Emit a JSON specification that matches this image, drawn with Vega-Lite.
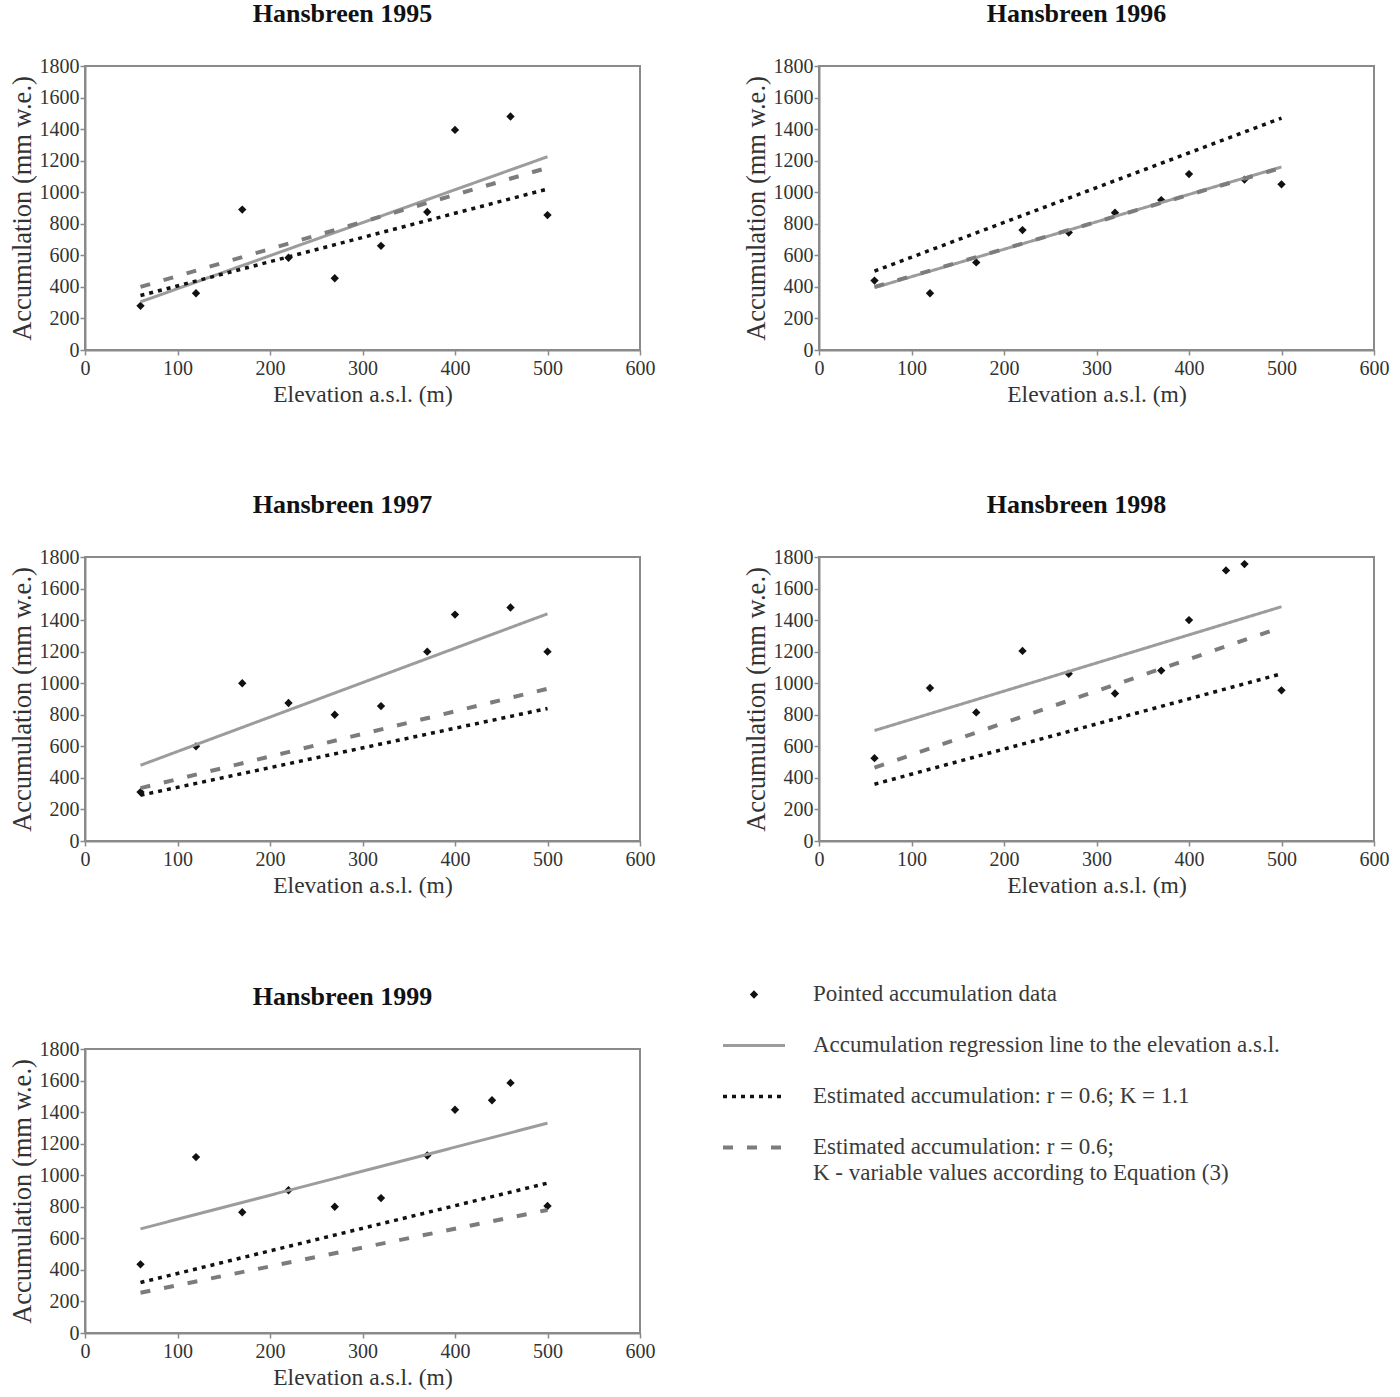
{
  "$schema": "https://vega.github.io/schema/vega-lite/v6.json",
  "background": "white",
  "padding": {"left": 7, "top": 0, "right": 5, "bottom": 5},
  "config": {
    "view": {"stroke": "#8a8a8a", "strokeWidth": 2},
    "axis": {
      "grid": false,
      "domainColor": "#8a8a8a", "domainWidth": 2,
      "tickColor": "#8a8a8a", "tickSize": 5, "tickWidth": 1.5,
      "labelFont": "Liberation Serif", "labelFontSize": 20, "labelColor": "#333333", "labelPadding": 1,
      "labelOverlap": false, "labelFlush": false, "format": "d",
      "titleFont": "Liberation Serif", "titleFontSize": 23.5, "titleFontWeight": "normal", "titleColor": "#333333"
    },
    "axisX": {"titlePadding": 4, "labelPadding": 3},
    "axisY": {"titlePadding": 3, "titleFontSize": 26.5},
    "title": {"font": "Liberation Serif", "fontSize": 26, "fontWeight": "bold", "color": "#111111", "offset": 29, "anchor": "middle", "dx": -20}
  },
  "datasets": {
    "pts": [
      {"year": 1995, "elev": 60, "acc": 280}, {"year": 1995, "elev": 120, "acc": 360}, {"year": 1995, "elev": 170, "acc": 890},
      {"year": 1995, "elev": 220, "acc": 585}, {"year": 1995, "elev": 270, "acc": 455}, {"year": 1995, "elev": 320, "acc": 660},
      {"year": 1995, "elev": 370, "acc": 875}, {"year": 1995, "elev": 400, "acc": 1395}, {"year": 1995, "elev": 460, "acc": 1480},
      {"year": 1995, "elev": 500, "acc": 855},
      {"year": 1996, "elev": 60, "acc": 440}, {"year": 1996, "elev": 120, "acc": 360}, {"year": 1996, "elev": 170, "acc": 555},
      {"year": 1996, "elev": 220, "acc": 760}, {"year": 1996, "elev": 270, "acc": 745}, {"year": 1996, "elev": 320, "acc": 870},
      {"year": 1996, "elev": 370, "acc": 950}, {"year": 1996, "elev": 400, "acc": 1115}, {"year": 1996, "elev": 460, "acc": 1080},
      {"year": 1996, "elev": 500, "acc": 1050},
      {"year": 1997, "elev": 60, "acc": 310}, {"year": 1997, "elev": 120, "acc": 600}, {"year": 1997, "elev": 170, "acc": 1000},
      {"year": 1997, "elev": 220, "acc": 875}, {"year": 1997, "elev": 270, "acc": 800}, {"year": 1997, "elev": 320, "acc": 855},
      {"year": 1997, "elev": 370, "acc": 1200}, {"year": 1997, "elev": 400, "acc": 1435}, {"year": 1997, "elev": 460, "acc": 1480},
      {"year": 1997, "elev": 500, "acc": 1200},
      {"year": 1998, "elev": 60, "acc": 525}, {"year": 1998, "elev": 120, "acc": 970}, {"year": 1998, "elev": 170, "acc": 815},
      {"year": 1998, "elev": 220, "acc": 1205}, {"year": 1998, "elev": 270, "acc": 1060}, {"year": 1998, "elev": 320, "acc": 935},
      {"year": 1998, "elev": 370, "acc": 1080}, {"year": 1998, "elev": 400, "acc": 1400}, {"year": 1998, "elev": 440, "acc": 1715},
      {"year": 1998, "elev": 460, "acc": 1755}, {"year": 1998, "elev": 500, "acc": 955},
      {"year": 1999, "elev": 60, "acc": 435}, {"year": 1999, "elev": 120, "acc": 1115}, {"year": 1999, "elev": 170, "acc": 765},
      {"year": 1999, "elev": 220, "acc": 905}, {"year": 1999, "elev": 270, "acc": 800}, {"year": 1999, "elev": 320, "acc": 855},
      {"year": 1999, "elev": 370, "acc": 1125}, {"year": 1999, "elev": 400, "acc": 1415}, {"year": 1999, "elev": 440, "acc": 1475},
      {"year": 1999, "elev": 460, "acc": 1585}, {"year": 1999, "elev": 500, "acc": 805}
    ],
    "lines": [
      {"year": 1995, "series": "Regression", "elev": 60, "acc": 305}, {"year": 1995, "series": "Regression", "elev": 500, "acc": 1225},
      {"year": 1995, "series": "K = 1.1", "elev": 60, "acc": 345}, {"year": 1995, "series": "K = 1.1", "elev": 500, "acc": 1020},
      {"year": 1995, "series": "K variable", "elev": 60, "acc": 400}, {"year": 1995, "series": "K variable", "elev": 500, "acc": 1155},
      {"year": 1996, "series": "Regression", "elev": 60, "acc": 395}, {"year": 1996, "series": "Regression", "elev": 500, "acc": 1160},
      {"year": 1996, "series": "K = 1.1", "elev": 60, "acc": 500}, {"year": 1996, "series": "K = 1.1", "elev": 500, "acc": 1470},
      {"year": 1996, "series": "K variable", "elev": 60, "acc": 400}, {"year": 1996, "series": "K variable", "elev": 500, "acc": 1155},
      {"year": 1997, "series": "Regression", "elev": 60, "acc": 480}, {"year": 1997, "series": "Regression", "elev": 500, "acc": 1440},
      {"year": 1997, "series": "K = 1.1", "elev": 60, "acc": 290}, {"year": 1997, "series": "K = 1.1", "elev": 500, "acc": 840},
      {"year": 1997, "series": "K variable", "elev": 60, "acc": 335}, {"year": 1997, "series": "K variable", "elev": 500, "acc": 965},
      {"year": 1998, "series": "Regression", "elev": 60, "acc": 700}, {"year": 1998, "series": "Regression", "elev": 500, "acc": 1485},
      {"year": 1998, "series": "K = 1.1", "elev": 60, "acc": 360}, {"year": 1998, "series": "K = 1.1", "elev": 500, "acc": 1060},
      {"year": 1998, "series": "K variable", "elev": 60, "acc": 465}, {"year": 1998, "series": "K variable", "elev": 500, "acc": 1355},
      {"year": 1999, "series": "Regression", "elev": 60, "acc": 660}, {"year": 1999, "series": "Regression", "elev": 500, "acc": 1330},
      {"year": 1999, "series": "K = 1.1", "elev": 60, "acc": 320}, {"year": 1999, "series": "K = 1.1", "elev": 500, "acc": 950},
      {"year": 1999, "series": "K variable", "elev": 60, "acc": 255}, {"year": 1999, "series": "K variable", "elev": 500, "acc": 780}
    ],
    "legend": [
      {"ord": 1, "series": "Points", "label": "Pointed accumulation data"},
      {"ord": 2, "series": "Regression", "label": "Accumulation regression line to the elevation a.s.l."},
      {"ord": 3, "series": "K = 1.1", "label": "Estimated accumulation: r = 0.6; K = 1.1"},
      {"ord": 4, "series": "K variable", "label": "Estimated accumulation: r = 0.6;\nK - variable values according to Equation (3)"}
    ]
  },
  "vconcat": [
    {
      "hconcat": [
        {
          "title": "Hansbreen 1995", "width": 555, "height": 284,
          "encoding": {
            "x": {"field": "elev", "type": "quantitative", "scale": {"domain": [0, 600]}, "axis": {"values": [0, 100, 200, 300, 400, 500, 600], "labelOverlap": false, "title": "Elevation a.s.l. (m)"}},
            "y": {"field": "acc", "type": "quantitative", "scale": {"domain": [0, 1800]}, "axis": {"values": [0, 200, 400, 600, 800, 1000, 1200, 1400, 1600, 1800], "labelOverlap": false, "title": "Accumulation (mm w.e.)"}}
          },
          "layer": [
            {"data": {"name": "pts"}, "transform": [{"filter": "datum.year == 1995"}],
             "mark": {"type": "point", "shape": "diamond", "filled": true, "color": "#111111", "size": 70, "opacity": 1}},
            {"data": {"name": "lines"}, "transform": [{"filter": "datum.year == 1995"}],
             "mark": {"type": "line", "strokeCap": "butt"},
             "encoding": {
               "color": {"field": "series", "type": "nominal", "scale": {"domain": ["Regression", "K = 1.1", "K variable"], "range": ["#9c9c9c", "#111111", "#7c7c7c"]}, "legend": null},
               "strokeDash": {"field": "series", "type": "nominal", "scale": {"domain": ["Regression", "K = 1.1", "K variable"], "range": [[1, 0], [4, 5], [10, 14]]}, "legend": null},
               "strokeWidth": {"field": "series", "type": "nominal", "scale": {"domain": ["Regression", "K = 1.1", "K variable"], "range": [3, 4, 4]}, "legend": null}}}
          ]
        },
        {
          "title": "Hansbreen 1996", "width": 555, "height": 284,
          "encoding": {
            "x": {"field": "elev", "type": "quantitative", "scale": {"domain": [0, 600]}, "axis": {"values": [0, 100, 200, 300, 400, 500, 600], "labelOverlap": false, "title": "Elevation a.s.l. (m)"}},
            "y": {"field": "acc", "type": "quantitative", "scale": {"domain": [0, 1800]}, "axis": {"values": [0, 200, 400, 600, 800, 1000, 1200, 1400, 1600, 1800], "labelOverlap": false, "title": "Accumulation (mm w.e.)"}}
          },
          "layer": [
            {"data": {"name": "pts"}, "transform": [{"filter": "datum.year == 1996"}],
             "mark": {"type": "point", "shape": "diamond", "filled": true, "color": "#111111", "size": 70, "opacity": 1}},
            {"data": {"name": "lines"}, "transform": [{"filter": "datum.year == 1996"}],
             "mark": {"type": "line", "strokeCap": "butt"},
             "encoding": {
               "color": {"field": "series", "type": "nominal", "scale": {"domain": ["Regression", "K = 1.1", "K variable"], "range": ["#9c9c9c", "#111111", "#7c7c7c"]}, "legend": null},
               "strokeDash": {"field": "series", "type": "nominal", "scale": {"domain": ["Regression", "K = 1.1", "K variable"], "range": [[1, 0], [4, 5], [10, 14]]}, "legend": null},
               "strokeWidth": {"field": "series", "type": "nominal", "scale": {"domain": ["Regression", "K = 1.1", "K variable"], "range": [3, 4, 4]}, "legend": null}}}
          ]
        }
      ],
      "spacing": 85
    },
    {
      "hconcat": [
        {
          "title": "Hansbreen 1997", "width": 555, "height": 284,
          "encoding": {
            "x": {"field": "elev", "type": "quantitative", "scale": {"domain": [0, 600]}, "axis": {"values": [0, 100, 200, 300, 400, 500, 600], "labelOverlap": false, "title": "Elevation a.s.l. (m)"}},
            "y": {"field": "acc", "type": "quantitative", "scale": {"domain": [0, 1800]}, "axis": {"values": [0, 200, 400, 600, 800, 1000, 1200, 1400, 1600, 1800], "labelOverlap": false, "title": "Accumulation (mm w.e.)"}}
          },
          "layer": [
            {"data": {"name": "pts"}, "transform": [{"filter": "datum.year == 1997"}],
             "mark": {"type": "point", "shape": "diamond", "filled": true, "color": "#111111", "size": 70, "opacity": 1}},
            {"data": {"name": "lines"}, "transform": [{"filter": "datum.year == 1997"}],
             "mark": {"type": "line", "strokeCap": "butt"},
             "encoding": {
               "color": {"field": "series", "type": "nominal", "scale": {"domain": ["Regression", "K = 1.1", "K variable"], "range": ["#9c9c9c", "#111111", "#7c7c7c"]}, "legend": null},
               "strokeDash": {"field": "series", "type": "nominal", "scale": {"domain": ["Regression", "K = 1.1", "K variable"], "range": [[1, 0], [4, 5], [10, 14]]}, "legend": null},
               "strokeWidth": {"field": "series", "type": "nominal", "scale": {"domain": ["Regression", "K = 1.1", "K variable"], "range": [3, 4, 4]}, "legend": null}}}
          ]
        },
        {
          "title": "Hansbreen 1998", "width": 555, "height": 284,
          "encoding": {
            "x": {"field": "elev", "type": "quantitative", "scale": {"domain": [0, 600]}, "axis": {"values": [0, 100, 200, 300, 400, 500, 600], "labelOverlap": false, "title": "Elevation a.s.l. (m)"}},
            "y": {"field": "acc", "type": "quantitative", "scale": {"domain": [0, 1800]}, "axis": {"values": [0, 200, 400, 600, 800, 1000, 1200, 1400, 1600, 1800], "labelOverlap": false, "title": "Accumulation (mm w.e.)"}}
          },
          "layer": [
            {"data": {"name": "pts"}, "transform": [{"filter": "datum.year == 1998"}],
             "mark": {"type": "point", "shape": "diamond", "filled": true, "color": "#111111", "size": 70, "opacity": 1}},
            {"data": {"name": "lines"}, "transform": [{"filter": "datum.year == 1998"}],
             "mark": {"type": "line", "strokeCap": "butt"},
             "encoding": {
               "color": {"field": "series", "type": "nominal", "scale": {"domain": ["Regression", "K = 1.1", "K variable"], "range": ["#9c9c9c", "#111111", "#7c7c7c"]}, "legend": null},
               "strokeDash": {"field": "series", "type": "nominal", "scale": {"domain": ["Regression", "K = 1.1", "K variable"], "range": [[1, 0], [4, 5], [10, 14]]}, "legend": null},
               "strokeWidth": {"field": "series", "type": "nominal", "scale": {"domain": ["Regression", "K = 1.1", "K variable"], "range": [3, 4, 4]}, "legend": null}}}
          ]
        }
      ],
      "spacing": 85
    },
    {
      "hconcat": [
        {
          "title": "Hansbreen 1999", "width": 555, "height": 284,
          "encoding": {
            "x": {"field": "elev", "type": "quantitative", "scale": {"domain": [0, 600]}, "axis": {"values": [0, 100, 200, 300, 400, 500, 600], "labelOverlap": false, "title": "Elevation a.s.l. (m)"}},
            "y": {"field": "acc", "type": "quantitative", "scale": {"domain": [0, 1800]}, "axis": {"values": [0, 200, 400, 600, 800, 1000, 1200, 1400, 1600, 1800], "labelOverlap": false, "title": "Accumulation (mm w.e.)"}}
          },
          "layer": [
            {"data": {"name": "pts"}, "transform": [{"filter": "datum.year == 1999"}],
             "mark": {"type": "point", "shape": "diamond", "filled": true, "color": "#111111", "size": 70, "opacity": 1}},
            {"data": {"name": "lines"}, "transform": [{"filter": "datum.year == 1999"}],
             "mark": {"type": "line", "strokeCap": "butt"},
             "encoding": {
               "color": {"field": "series", "type": "nominal", "scale": {"domain": ["Regression", "K = 1.1", "K variable"], "range": ["#9c9c9c", "#111111", "#7c7c7c"]}, "legend": null},
               "strokeDash": {"field": "series", "type": "nominal", "scale": {"domain": ["Regression", "K = 1.1", "K variable"], "range": [[1, 0], [4, 5], [10, 14]]}, "legend": null},
               "strokeWidth": {"field": "series", "type": "nominal", "scale": {"domain": ["Regression", "K = 1.1", "K variable"], "range": [3, 4, 4]}, "legend": null}}}
          ]
        },
        {
          "width": 620, "height": 204,
          "view": {"stroke": null},
          "data": {"name": "legend"},
          "layer": [
            {"transform": [{"filter": "datum.series != 'Points'"}],
             "mark": {"type": "rule", "strokeCap": "butt", "yOffset": -80},
             "encoding": {
               "x": {"datum": 0, "type": "quantitative", "scale": {"domain": [0, 10]}, "axis": null},
               "x2": {"datum": 1},
               "y": {"field": "ord", "type": "ordinal", "scale": {"type": "point", "padding": 0.5}, "axis": null},
               "color": {"field": "series", "type": "nominal", "scale": {"domain": ["Regression", "K = 1.1", "K variable"], "range": ["#9c9c9c", "#111111", "#7c7c7c"]}, "legend": null},
               "strokeDash": {"field": "series", "type": "nominal", "scale": {"domain": ["Regression", "K = 1.1", "K variable"], "range": [[1, 0], [4, 5], [10, 14]]}, "legend": null},
               "strokeWidth": {"field": "series", "type": "nominal", "scale": {"domain": ["Regression", "K = 1.1", "K variable"], "range": [3, 4, 4]}, "legend": null}}},
            {"transform": [{"filter": "datum.series == 'Points'"}],
             "mark": {"type": "point", "shape": "diamond", "filled": true, "color": "#111111", "size": 70, "opacity": 1, "yOffset": -80},
             "encoding": {
               "x": {"datum": 0.5, "type": "quantitative"},
               "y": {"field": "ord", "type": "ordinal"}}},
            {"mark": {"type": "text", "align": "left", "baseline": "top", "dy": -12, "yOffset": -80, "lineBreak": "\n", "lineHeight": 26, "font": "Liberation Serif", "fontSize": 23, "color": "#3a3a3a"},
             "encoding": {
               "x": {"datum": 1.45, "type": "quantitative"},
               "y": {"field": "ord", "type": "ordinal"},
               "text": {"field": "label"}}}
          ]
        }
      ],
      "spacing": 65
    }
  ],
  "spacing": 84
}
